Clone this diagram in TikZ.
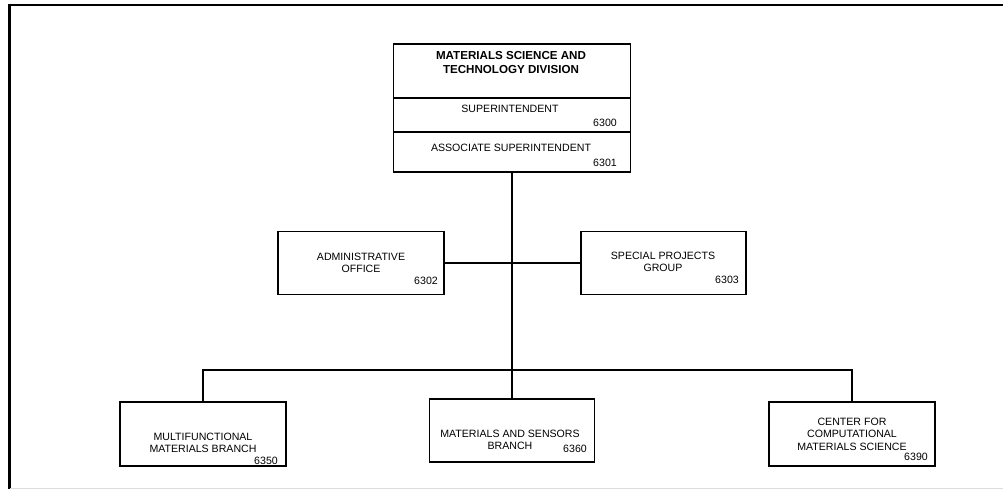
\documentclass[tikz,border=0pt]{standalone}
\usepackage{fontspec}
\setmainfont{Liberation Sans}
\usetikzlibrary{positioning}
\definecolor{orgink}{HTML}{000000}
\definecolor{orgrule}{HTML}{DCDCDC}
\tikzset{
  orgunit/.style = {draw=orgink, line width=1.9pt, rectangle,
                    minimum width=166pt, minimum height=63pt,
                    inner sep=0pt, outer sep=0pt},
  orghead/.style = {orgunit, minimum width=237pt},
  orgtext/.style = {font=\fontsize{10.6}{12.5}\selectfont, align=center, inner sep=0pt},
  orgbold/.style = {orgtext, font=\bfseries\fontsize{11.6}{14}\selectfont},
  orgnum/.style  = {orgtext, anchor=east},
  link/.style    = {draw=orgink, line width=1.9pt},
}

\begin{document}
\begin{tikzpicture}[x=1pt, y=-1pt]
    \useasboundingbox (0,0) rectangle (1003,489);
    % frame
    \draw[orgink, line width=2.6pt] (8,5) -- (1003,5);
    \draw[orgink, line width=2.8pt] (9.5,3.7) -- (9.5,489);
    \draw[orgrule, line width=1pt] (10,488) -- (1003,488);

    % division head
    \node[orghead, minimum height=54pt]                   (div) at (512,71) {};
    \node[orghead, minimum height=34pt, below=0pt of div] (sup) {};
    \node[orghead, minimum height=40pt, below=0pt of sup] (asc) {};
    \node[orgbold] (divt) at (511,63)  {MATERIALS SCIENCE AND\\TECHNOLOGY DIVISION};
    \node[orgtext] (supt) at (510,109) {SUPERINTENDENT};
    \node[orgnum]  (supn) at (617,123) {6300};
    \node[orgtext] (asct) at (511,148) {ASSOCIATE SUPERINTENDENT};
    \node[orgnum]  (ascn) at (617,163) {6301};

    % staff offices
    \node[orgunit] (adm) at (361,263) {};
    \node[orgtext] (admt) at (361,263) {ADMINISTRATIVE\\OFFICE};
    \node[orgnum]  (admn) at (438,281) {6302};
    \node[orgunit, minimum width=165pt] (spg) at (663.5,263) {};
    \node[orgtext] (spgt) at (663,262) {SPECIAL PROJECTS\\GROUP};
    \node[orgnum]  (spgn) at (739,280) {6303};

    % branches
    \node[orgunit, minimum height=64pt] (mf) at (203,434) {};
    \node[orgtext] (mft) at (203,443) {MULTIFUNCTIONAL\\MATERIALS BRANCH};
    \node[orgnum]  (mfn) at (278,461) {6350};
    \node[orgunit, minimum width=165pt] (ms) at (512,430.5) {};
    \node[orgtext] (mst) at (510,440) {MATERIALS AND SENSORS\\BRANCH};
    \node[orgnum]  (msn) at (587,449) {6360};
    \node[orgunit, minimum height=64pt] (cc) at (852,434) {};
    \node[orgtext] (cct) at (852,434) {CENTER FOR\\COMPUTATIONAL\\MATERIALS SCIENCE};
    \node[orgnum]  (ccn) at (928,457) {6390};

    % links
    \coordinate (bus) at (512,370);
    \draw[link] (asc.south) -- (ms.north);
    \draw[link] (adm.east) -- (spg.west);
    \draw[link] (mf.north) |- (bus) -| (cc.north);
\end{tikzpicture}
\end{document}
